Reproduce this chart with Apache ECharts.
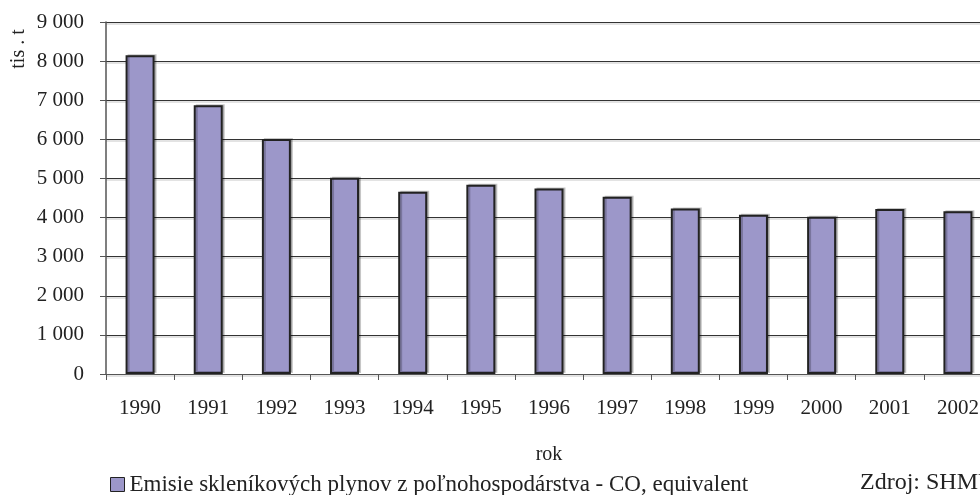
<!DOCTYPE html>
<html><head><meta charset="utf-8">
<script src="https://cdn.jsdelivr.net/npm/echarts@6/dist/echarts.min.js"></script>
<style>html,body{margin:0;padding:0;background:#fff;overflow:hidden;width:980px;height:495px}#c{width:1000px;height:495px}</style>
</head><body><div id="c"></div>
<script>
var years = ['1990','1991','1992','1993','1994','1995','1996','1997','1998','1999','2000','2001','2002'];
var emisie = [8150, 6870, 6010, 5020, 4660, 4840, 4740, 4530, 4230, 4070, 4020, 4220, 4160];
var seriesName = 'Emisie skleníkových plynov z poľnohospodárstva - CO, equivalent';
var yAxisName = 'tis . t';
var xAxisName = 'rok';
var sourceText = 'Zdroj: SHMÚ';
var font = '"Liberation Serif", "DejaVu Serif", serif';
var chart = echarts.init(document.getElementById('c'));
chart.setOption({
  animation: false,
  textStyle: {fontFamily: font},
  grid: {left: 106, top: 22, width: 886, height: 352, containLabel: false},
  legend: {
    left: 110, top: 473, itemWidth: 14, itemHeight: 14, itemGap: 4, padding: 0,
    textStyle: {fontFamily: font, fontSize: 23, color: '#222'},
    data: [{name: seriesName, icon: 'rect', itemStyle: {borderColor: '#222', borderWidth: 1}}]
  },
  graphic: [
    {type: 'text', left: 860, top: 471, style: {text: sourceText, font: '24px ' + font, fill: '#222'}},
    {type: 'text', x: 19, y: 49, rotation: Math.PI / 2,
      style: {text: yAxisName, font: '20px ' + font, fill: '#222', align: 'center', verticalAlign: 'middle'}}
  ],
  xAxis: {
    type: 'category', data: years, name: xAxisName, nameLocation: 'middle', nameGap: 71,
    nameTextStyle: {fontFamily: font, fontSize: 20, color: '#222'},
    axisLine: {lineStyle: {color: '#555', width: 1}},
    axisTick: {show: true, alignWithLabel: false, length: 6, lineStyle: {color: '#555'}},
    axisLabel: {fontFamily: font, fontSize: 21, color: '#222', margin: 24, interval: 0}
  },
  yAxis: {
    type: 'value', min: 0, max: 9000, interval: 1000,
    axisLine: {show: true, lineStyle: {color: '#555', width: 1.5}},
    axisTick: {show: true, length: 6, lineStyle: {color: '#555'}},
    axisLabel: {fontFamily: font, fontSize: 21, color: '#222', margin: 22,
      formatter: function (v) { return String(v).replace(/\B(?=(\d{3})+(?!\d))/g, ' '); }},
    splitLine: {show: true, lineStyle: {color: '#333', width: 1, shadowColor: 'rgba(0,0,0,0.22)', shadowOffsetY: 1.5, shadowBlur: 0}}
  },
  series: [{
    name: seriesName, type: 'bar', data: emisie, barWidth: 29,
    itemStyle: {color: '#9c97c9', borderColor: '#222', borderWidth: 2,
      shadowColor: 'rgba(0,0,0,0.22)', shadowOffsetX: 2, shadowOffsetY: -1, shadowBlur: 0}
  }]
});
</script></body></html>
